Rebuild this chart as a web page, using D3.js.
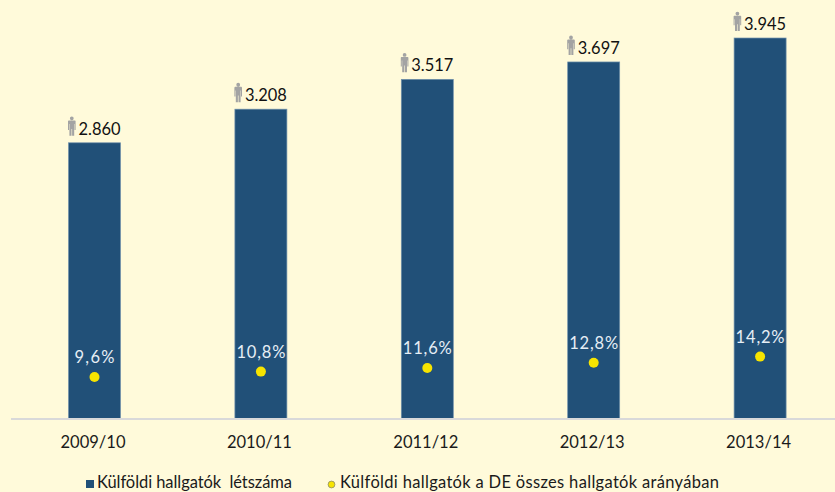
<!DOCTYPE html>
<html><head><meta charset="utf-8">
<script src="https://cdn.jsdelivr.net/npm/d3@7"></script>
<style>html,body{margin:0;padding:0;background:#fffada;overflow:hidden}svg{display:block}
text{font-family:Lato,sans-serif}</style></head><body>
<script>
const categories = ["2009/10","2010/11","2011/12","2012/13","2013/14"];
const students = [2860,3208,3517,3697,3945];
const studentLabels = ["2.860","3.208","3.517","3.697","3.945"];
const shares = [9.6,10.8,11.6,12.8,14.2];
const shareLabels = ["9,6%","10,8%","11,6%","12,8%","14,2%"];
const legendLabels = ["Külföldi hallgatók  létszáma","Külföldi hallgatók a DE összes hallgatók arányában"];

const W=835,H=492;
const svg=d3.select("body").append("svg").attr("width",W).attr("height",H);
svg.append("rect").attr("width",W).attr("height",H).attr("fill","#fffada");

const x=d3.scaleBand().domain(categories).range([11.3,843.3]).paddingInner(0.6875).paddingOuter(0.34375);
const y=d3.scaleLinear().domain([0,4000]).range([419,32.7]);
const y2=d3.scaleLinear().domain([0,20]).range([419.3,331]);
const cx=c=>x(c)+x.bandwidth()/2;

svg.selectAll("rect.bar").data(categories).join("rect").attr("class","bar")
  .attr("x",c=>x(c)).attr("width",x.bandwidth())
  .attr("y",(c,i)=>y(students[i])).attr("height",(c,i)=>y(0)-y(students[i]))
  .attr("fill","#215078").attr("stroke","#6f90ab").attr("stroke-width",0.7);

svg.append("line").attr("x1",11).attr("x2",W).attr("y1",419).attr("y2",419)
  .attr("stroke","#d9d9d9").attr("stroke-width",2);

const axis=d3.axisBottom(x).tickSize(0).tickPadding(0);
const ax=svg.append("g").attr("transform","translate(0,419)").call(axis);
ax.select(".domain").remove();
ax.selectAll("text").attr("dy",null).attr("x",-1.5).attr("y",29).attr("font-size",17).attr("fill","#1a1a1a")
  .style("font-family","Lato,sans-serif").attr("textLength",65).attr("lengthAdjust","spacingAndGlyphs");

// person icon
const person="M-1.9,-7.7 a1.9,1.9 0 1,1 3.8,0 a1.9,1.9 0 1,1 -3.8,0 Z M-3.2,-5.6 H3.2 L3.8,-5 V4 H2.8 V-2 H2.4 V9.7 H0.3 V3 H-0.3 V9.7 H-2.4 V-2 H-2.8 V4 H-3.8 V-5 Z";
svg.selectAll("path.person").data(categories).join("path").attr("class","person")
  .attr("d",person).attr("fill","#a3a3a3")
  .attr("transform",(c,i)=>`translate(${x(c)+3.3},${y(students[i])-16.75})`);

svg.selectAll("text.val").data(categories).join("text").attr("class","val")
  .attr("x",c=>x(c)+10).attr("y",(c,i)=>y(students[i])-8)
  .attr("font-size",17).attr("fill","#111")
  .attr("textLength",42).attr("lengthAdjust","spacingAndGlyphs")
  .text((c,i)=>studentLabels[i]);

svg.selectAll("circle.pt").data(categories).join("circle").attr("class","pt")
  .attr("cx",cx).attr("cy",(c,i)=>y2(shares[i])).attr("r",5).attr("fill","#f7e400");

svg.selectAll("text.share").data(categories).join("text").attr("class","share")
  .attr("x",cx).attr("y",(c,i)=>y2(shares[i])-14)
  .attr("text-anchor","middle").attr("font-size",16.5).attr("fill","#e6eef5")
  .style("font-family","Lato,sans-serif").attr("textLength",(c,i)=>shareLabels[i].length==4?40:49)
  .attr("lengthAdjust","spacing")
  .text((c,i)=>shareLabels[i]);

// legend
svg.append("rect").attr("x",86).attr("y",480).attr("width",8).attr("height",8).attr("fill","#215078");
svg.append("text").attr("x",97).attr("y",487.5).attr("font-size",16.5).attr("fill","#1a1a1a")
  .style("white-space","pre").attr("textLength",195).attr("lengthAdjust","spacing").text(legendLabels[0]);
svg.append("circle").attr("cx",331.5).attr("cy",484.5).attr("r",3.4).attr("fill","#f7e400").attr("stroke","#8a8a6a").attr("stroke-width",0.8);
svg.append("text").attr("x",340).attr("y",487.5).attr("font-size",16.5).attr("fill","#1a1a1a")
  .attr("textLength",379).attr("lengthAdjust","spacing").text(legendLabels[1]);
</script></body></html>
